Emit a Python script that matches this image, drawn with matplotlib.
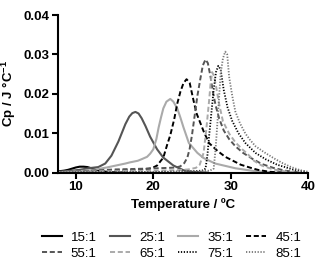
import numpy as np
import matplotlib
matplotlib.use("Agg")
import matplotlib.pyplot as plt

plt.rcParams['font.family'] = ['Liberation Sans', 'DejaVu Sans']
plt.rcParams['mathtext.fontset'] = 'custom'
plt.rcParams['mathtext.rm'] = 'Liberation Sans'
plt.rcParams['mathtext.bf'] = 'Liberation Sans:bold'

# values (temperature in C, Cp in J/C)
t_15 = [7.7, 8.5, 9.0, 9.5, 10.0, 10.5, 11.0, 11.5, 12.0, 12.5, 13.0, 13.5, 14.0, 15.0, 16.0]
cp_15 = [0.0003, 0.0005, 0.0007, 0.0010, 0.0013, 0.0015, 0.0015, 0.0014, 0.0011, 0.0008,
         0.0005, 0.0003, 0.0002, 0.0001, 0.0]

t_25 = [7.7, 9.0, 10.5, 11.6, 12.9, 13.8, 14.6, 15.5, 16.4, 16.9, 17.3, 17.7, 18.1, 18.5,
        19.0, 19.6, 20.5, 21.3, 22.6, 23.9, 25.0, 27.0]
cp_25 = [0.0002, 0.0004, 0.0007, 0.0011, 0.0014, 0.0023, 0.0043, 0.0079, 0.0123, 0.0142,
         0.0151, 0.0154, 0.0150, 0.0138, 0.0118, 0.0091, 0.0059, 0.0038, 0.0018, 0.0006,
         0.0002, 0.0]

t_35 = [7.7, 10.0, 12.0, 14.0, 16.4, 17.0, 18.0, 18.5, 19.2, 19.6, 20.0, 20.4, 20.7, 21.0,
        21.3, 21.7, 22.2, 22.6, 23.1, 23.5, 23.9, 24.6, 25.7, 26.5, 28.0, 30.6, 33.0, 36.0]
cp_35 = [0.0001, 0.0003, 0.0006, 0.0013, 0.0023, 0.0026, 0.0030, 0.0034, 0.0040, 0.0048,
         0.0059, 0.0085, 0.0115, 0.0140, 0.0163, 0.0180, 0.0187, 0.0180, 0.0163, 0.0140,
         0.0115, 0.0075, 0.0050, 0.0037, 0.0023, 0.0011, 0.0004, 0.0]

t_45 = [9.0, 12.0, 15.0, 17.0, 18.5, 19.5, 20.0, 20.5, 21.3, 21.8, 22.2, 22.7, 23.1, 23.5,
        23.9, 24.3, 24.7, 25.2, 25.6, 26.1, 26.5, 27.2, 28.3, 29.3, 30.4, 31.3, 32.6, 33.5,
        35.0, 37.0]
cp_45 = [0.0001, 0.0003, 0.0005, 0.0006, 0.0008, 0.0010, 0.0013, 0.0018, 0.0038, 0.0071,
         0.0095, 0.0135, 0.0175, 0.0205, 0.0227, 0.0237, 0.0228, 0.0183, 0.0150, 0.0125,
         0.0105, 0.0075, 0.0055, 0.0040, 0.0029, 0.0020, 0.0012, 0.0007, 0.0002, 0.0]

t_55 = [8.0, 11.0, 13.0, 15.0, 17.0, 19.0, 20.5, 22.0, 23.0, 23.5, 24.0, 24.4, 24.7, 25.0,
        25.35, 25.7, 26.1, 26.4, 26.75, 27.05, 27.4, 27.7, 28.05, 28.5, 29.1, 29.8, 30.6,
        31.6, 32.8, 34.0, 35.5, 37.0, 39.0]
cp_55 = [0.0002, 0.0004, 0.0006, 0.0008, 0.0009, 0.0010, 0.0011, 0.0012, 0.0013, 0.0016,
         0.0024, 0.0038, 0.0060, 0.0095, 0.0145, 0.0195, 0.0240, 0.0272, 0.0287, 0.0278,
         0.0243, 0.0205, 0.0171, 0.0138, 0.0107, 0.0085, 0.0067, 0.0050, 0.0035, 0.0022,
         0.0012, 0.0005, 0.0]

t_65 = [8.0, 12.0, 16.0, 20.0, 23.0, 24.5, 25.5, 26.0, 26.5, 26.85, 27.2, 27.4, 27.6, 27.85,
        28.1, 28.5, 29.0, 29.8, 30.6, 31.5, 32.2, 33.0, 34.0, 35.5, 37.0, 39.0]
cp_65 = [0.0001, 0.0003, 0.0004, 0.0005, 0.0006, 0.0008, 0.0012, 0.0020, 0.0050, 0.0110,
         0.0180, 0.0225, 0.0255, 0.0245, 0.0220, 0.0175, 0.0130, 0.0099, 0.0077, 0.0059,
         0.0047, 0.0030, 0.0018, 0.0008, 0.0003, 0.0]

t_75 = [8.0, 15.0, 22.0, 25.0, 26.3, 26.75, 27.0, 27.2, 27.5, 27.8, 28.1, 28.4, 28.7, 29.1,
        29.6, 30.2, 31.0, 31.9, 33.2, 34.5, 36.0, 38.0, 39.8]
cp_75 = [0.0, 0.0001, 0.0002, 0.0003, 0.0005, 0.0010, 0.0045, 0.0090, 0.0150, 0.0210,
         0.0255, 0.0271, 0.0262, 0.0210, 0.0165, 0.0131, 0.0100, 0.0075, 0.0050, 0.0034,
         0.0020, 0.0008, 0.0002]

t_85 = [8.0, 15.0, 22.0, 26.0, 27.3, 27.8, 28.05, 28.3, 28.5, 28.7, 29.0, 29.3, 29.55, 29.8,
        30.2, 30.6, 31.2, 31.9, 32.5, 33.2, 34.3, 35.6, 36.7, 37.8, 39.0, 40.0]
cp_85 = [0.0, 0.0001, 0.0002, 0.0003, 0.0005, 0.0010, 0.0060, 0.0131, 0.0190, 0.0251,
         0.0290, 0.0307, 0.0300, 0.0243, 0.0195, 0.0155, 0.0125, 0.0099, 0.0083, 0.0067,
         0.0052, 0.0036, 0.0024, 0.0014, 0.0006, 0.0002]

labels = ['15:1', '25:1', '35:1', '45:1', '55:1', '65:1', '75:1', '85:1']
temps = [t_15, t_25, t_35, t_45, t_55, t_65, t_75, t_85]
cps = [cp_15, cp_25, cp_35, cp_45, cp_55, cp_65, cp_75, cp_85]

dash = (0, (2.6, 1.4))
dot = (0, (0.7, 0.9))
styles = [
    ('#000000', '-', 1.5),
    ('#555555', '-', 1.5),
    ('#aaaaaa', '-', 1.5),
    ('#000000', dash, 1.4),
    ('#555555', dash, 1.4),
    ('#aaaaaa', dash, 1.4),
    ('#000000', dot, 1.3),
    ('#777777', dot, 1.3),
]

fig = plt.figure(figsize=(3.17, 2.68), dpi=100)
ax = fig.add_axes([0.183, 0.356, 0.789, 0.588])

lines = []
for t, cp, lab, (col, ls, lw) in zip(temps, cps, labels, styles):
    ln, = ax.plot(t, cp, color=col, linestyle=ls, linewidth=lw, label=lab)
    lines.append(ln)

ax.set_xlim(7.7, 40)
ax.set_ylim(0, 0.04)
ax.set_xticks([10, 20, 30, 40])
ax.set_yticks([0.0, 0.01, 0.02, 0.03, 0.04])
ax.set_yticklabels(['0.00', '0.01', '0.02', '0.03', '0.04'])

for side in ['top', 'right']:
    ax.spines[side].set_visible(False)
for side in ['left', 'bottom']:
    ax.spines[side].set_linewidth(1.5)
ax.tick_params(direction='out', length=4, width=1.5, labelsize=9.5, pad=2)
for lbl in ax.get_xticklabels() + ax.get_yticklabels():
    lbl.set_fontweight('bold')

ax.set_xlabel('Temperature / ºC', fontsize=9.5, fontweight='bold', labelpad=4)
ax.set_ylabel(r'Cp / J °C$^{\mathbf{-1}}$', fontsize=9.5, fontweight='bold', labelpad=4)

# legend fills column by column, so reorder to get rows 15..45 / 55..85
order = [0, 4, 1, 5, 2, 6, 3, 7]
fig.legend([lines[i] for i in order], [labels[i] for i in order],
           loc='upper center', bbox_to_anchor=(0.541, 0.135), ncol=4, frameon=False,
           fontsize=9.5, handlelength=1.5, handletextpad=0.7, columnspacing=1.0,
           labelspacing=0.25, borderpad=0, borderaxespad=0)

fig.savefig('out.png', dpi=100)
